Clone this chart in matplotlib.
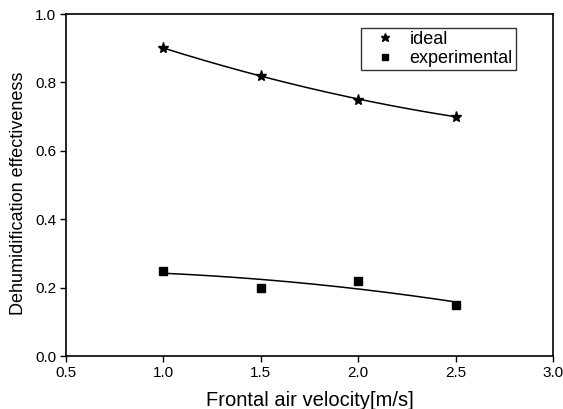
import numpy as np
import matplotlib
matplotlib.use("Agg")
import matplotlib.pyplot as plt

plt.rcParams['font.family'] = ['Liberation Sans', 'DejaVu Sans']

velocity = [1.0, 1.5, 2.0, 2.5]
ideal = [0.90, 0.82, 0.75, 0.70]
experimental = [0.25, 0.20, 0.22, 0.15]

xticks = [0.5, 1.0, 1.5, 2.0, 2.5, 3.0]
yticks = [0.0, 0.2, 0.4, 0.6, 0.8, 1.0]

fig = plt.figure(figsize=(5.63, 4.09), dpi=100)
ax = fig.add_axes([66 / 563, 1 - 356 / 409, (553 - 66) / 563, (356 - 14) / 409])

# second-order polynomial fits through each series
xs = np.linspace(min(velocity), max(velocity), 200)
for ys in (ideal, experimental):
    coef = np.polyfit(velocity, ys, 2)
    ax.plot(xs, np.polyval(coef, xs), color='black', lw=1.1)

ax.plot(velocity, ideal, ls='none', marker='*', ms=8, color='black', label='ideal')
ax.plot(velocity, experimental, ls='none', marker='s', ms=5.5, color='black', label='experimental')

ax.set_xlim(0.5, 3.0)
ax.set_ylim(0.0, 1.0)
ax.set_xticks(xticks)
ax.set_yticks(yticks)
ax.set_xticklabels([f"{v:.1f}" for v in xticks])
ax.set_yticklabels([f"{v:.1f}" for v in yticks])
ax.tick_params(direction='out', length=4, width=1, labelsize=11, colors='black', pad=3)
for s in ax.spines.values():
    s.set_linewidth(1.2)

ax.set_xlabel('Frontal air velocity[m/s]', fontsize=14.5, labelpad=8)
ax.set_ylabel('Dehumidification effectiveness', fontsize=13)
ax.yaxis.set_label_coords(-0.08, 0.475)

leg = ax.legend(loc='upper left', bbox_to_anchor=((361 - 66) / 487, (356 - 28) / 342),
                fontsize=13, frameon=True, fancybox=False, edgecolor='black',
                borderpad=0.15, handlelength=2.4, handletextpad=0.15, labelspacing=0.15,
                borderaxespad=0, markerscale=0.8)
leg.get_frame().set_linewidth(1.0)

fig.savefig('out.png', dpi=100)
